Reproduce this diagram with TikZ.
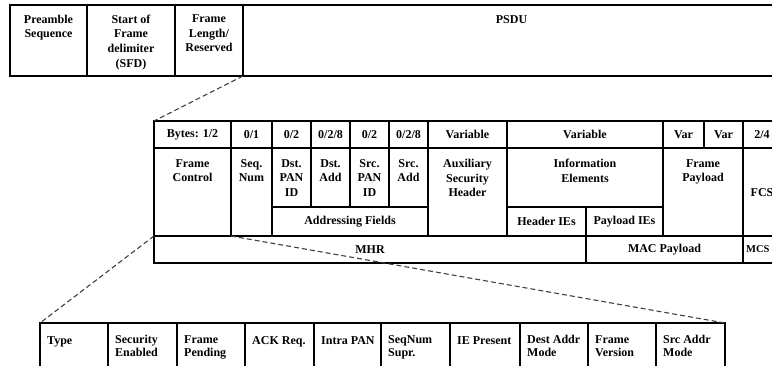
\documentclass[tikz,border=0pt]{standalone}
\usepackage{fontspec}
\setmainfont{Liberation Serif}
% one framed cell: style, name, left, top, right, bottom (y grows downwards)
\newcommand{\fcell}[6]{%
  \node[#1,anchor=north west,minimum width={(#5)-(#3)},minimum height={(#6)-(#4)}] (#2) at (#3,#4) {};}
\begin{document}
\begin{tikzpicture}[x=1pt,y=-1pt,
  cellbox/.style={draw, inner sep=0pt, outer sep=0pt},
  topcell/.style={cellbox, line width=2.2pt},
  midcell/.style={cellbox, line width=1.6pt},
  botcell/.style={cellbox, line width=2pt},
  lbl/.style={inner sep=0pt, align=center, font=\bfseries\fontsize{12}{14.7}\selectfont,
    execute at begin node=\rule{0pt}{9pt}},
  lblL/.style={inner sep=0pt, align=left, font=\bfseries\fontsize{12}{13}\selectfont,
    execute at begin node=\rule{0pt}{9pt}},
  lblS/.style={inner sep=0pt, font=\bfseries\fontsize{10.5}{11}\selectfont},
  link/.style={draw=black!75, line width=1.1pt, dash pattern=on 5pt off 3pt}]
\clip (0,0) rectangle (772,366);

% PHY frame
\fcell{topcell}{pre}{10}{5}{87}{76}
\fcell{topcell}{sfd}{87}{5}{175}{76}
\fcell{topcell}{len}{175}{5}{243}{76}
\fcell{topcell}{psdu}{243}{5}{780}{76}
\node[lbl,anchor=north] (pre-t) at ([yshift=-9.5pt]pre.north) {Preamble\\Sequence};
\node[lbl,anchor=north] (sfd-t) at ([yshift=-9.5pt]sfd.north) {Start of\\Frame\\delimiter\\(SFD)};
\node[lbl,anchor=north] (len-t) at ([yshift=-9.5pt]len.north) {Frame\\Length/\\Reserved};
\node[lbl,anchor=north] (psdu-t) at ([yshift=-9.5pt]psdu.north) {PSDU};

% MAC frame: sizes row
\fcell{midcell}{b1}{154}{121}{231}{148}
\fcell{midcell}{b2}{231}{121}{272}{148}
\fcell{midcell}{b3}{272}{121}{311}{148}
\fcell{midcell}{b4}{311}{121}{350}{148}
\fcell{midcell}{b5}{350}{121}{389}{148}
\fcell{midcell}{b6}{389}{121}{428}{148}
\fcell{midcell}{b7}{428}{121}{507}{148}
\fcell{midcell}{b8}{507}{121}{663}{148}
\fcell{midcell}{b9}{663}{121}{704}{148}
\fcell{midcell}{b10}{704}{121}{743}{148}
\fcell{midcell}{b11}{743}{121}{781}{148}
\node[lbl] (b1-t) at (b1.center) {Bytes: 1/2};
\node[lbl] (b2-t) at (b2.center) {0/1};
\node[lbl] (b3-t) at (b3.center) {0/2};
\node[lbl] (b4-t) at (b4.center) {0/2/8};
\node[lbl] (b5-t) at (b5.center) {0/2};
\node[lbl] (b6-t) at (b6.center) {0/2/8};
\node[lbl] (b7-t) at (b7.center) {Variable};
\node[lbl] (b8-t) at (b8.center) {Variable};
\node[lbl] (b9-t) at (b9.center) {Var};
\node[lbl] (b10-t) at (b10.center) {Var};
\node[lbl] (b11-t) at (b11.center) {2/4};

% MAC frame: fields
\fcell{midcell}{fc}{154}{148}{231}{236}
\fcell{midcell}{sn}{231}{148}{272}{236}
\fcell{midcell}{dpan}{272}{148}{311}{207}
\fcell{midcell}{dadd}{311}{148}{350}{207}
\fcell{midcell}{span}{350}{148}{389}{207}
\fcell{midcell}{sadd}{389}{148}{428}{207}
\fcell{midcell}{addr}{272}{207}{428}{236}
\fcell{midcell}{aux}{428}{148}{507}{236}
\fcell{midcell}{ie}{507}{148}{663}{207}
\fcell{midcell}{hie}{507}{207}{586}{236}
\fcell{midcell}{pie}{586}{207}{663}{236}
\fcell{midcell}{fp}{663}{148}{743}{236}
\fcell{midcell}{fcs}{743}{148}{781}{236}
\node[lbl,anchor=north] (fc-t) at ([yshift=-11pt]fc.north) {Frame\\Control};
\node[lbl,anchor=north] (sn-t) at ([yshift=-11pt]sn.north) {Seq.\\Num};
\node[lbl,anchor=north] (dpan-t) at ([yshift=-11pt]dpan.north) {Dst.\\PAN\\ID};
\node[lbl,anchor=north] (dadd-t) at ([yshift=-11pt]dadd.north) {Dst.\\Add};
\node[lbl,anchor=north] (span-t) at ([yshift=-11pt]span.north) {Src.\\PAN\\ID};
\node[lbl,anchor=north] (sadd-t) at ([yshift=-11pt]sadd.north) {Src.\\Add};
\node[lbl] (addr-t) at (addr.center) {Addressing Fields};
\node[lbl,anchor=north] (aux-t) at ([yshift=-11pt]aux.north) {Auxiliary\\Security\\Header};
\node[lbl,anchor=north] (ie-t) at ([yshift=-11pt]ie.north) {Information\\Elements};
\node[lbl] (hie-t) at (hie.center) {Header IEs};
\node[lbl] (pie-t) at (pie.center) {Payload IEs};
\node[lbl,anchor=north] (fp-t) at ([yshift=-11pt]fp.north) {Frame\\Payload};
\node[lbl] (fcs-t) at (fcs.center) {FCS};

% MAC frame: header / payload / footer
\fcell{midcell}{mhr}{154}{236}{586}{263}
\fcell{midcell}{macp}{586}{236}{743}{263}
\fcell{midcell}{mfr}{743}{236}{781}{263}
\node[lbl] (mhr-t) at (mhr.center) {MHR};
\node[lbl] (macp-t) at (macp.center) {MAC Payload};
\node[lblS,anchor=west] (mfr-t) at ([xshift=3pt]mfr.west) {MCS};

% Frame Control bits
\fcell{botcell}{type}{40}{323}{108}{380}
\fcell{botcell}{sec}{108}{323}{177}{380}
\fcell{botcell}{pend}{177}{323}{245}{380}
\fcell{botcell}{ack}{245}{323}{314}{380}
\fcell{botcell}{intra}{314}{323}{381}{380}
\fcell{botcell}{seqs}{381}{323}{450}{380}
\fcell{botcell}{iep}{450}{323}{520}{380}
\fcell{botcell}{dstm}{520}{323}{588}{380}
\fcell{botcell}{ver}{588}{323}{656}{380}
\fcell{botcell}{srcm}{656}{323}{725}{380}
\node[lblL,anchor=north west] (type-t) at ([xshift=7pt,yshift=-12pt]type.north west) {Type};
\node[lblL,anchor=north west] (sec-t) at ([xshift=7pt,yshift=-12pt]sec.north west) {Security\\Enabled};
\node[lblL,anchor=north west] (pend-t) at ([xshift=7pt,yshift=-12pt]pend.north west) {Frame\\Pending};
\node[lblL,anchor=north west] (ack-t) at ([xshift=7pt,yshift=-12pt]ack.north west) {ACK Req.};
\node[lblL,anchor=north west] (intra-t) at ([xshift=7pt,yshift=-12pt]intra.north west) {Intra PAN};
\node[lblL,anchor=north west] (seqs-t) at ([xshift=7pt,yshift=-12pt]seqs.north west) {SeqNum\\Supr.};
\node[lblL,anchor=north west] (iep-t) at ([xshift=7pt,yshift=-12pt]iep.north west) {IE Present};
\node[lblL,anchor=north west] (dstm-t) at ([xshift=7pt,yshift=-12pt]dstm.north west) {Dest Addr\\Mode};
\node[lblL,anchor=north west] (ver-t) at ([xshift=7pt,yshift=-12pt]ver.north west) {Frame\\Version};
\node[lblL,anchor=north west] (srcm-t) at ([xshift=7pt,yshift=-12pt]srcm.north west) {Src Addr\\Mode};

% zoom-in guides
\draw[link] (len.south east) -- (b1.north west);
\draw[link] (fc.south west) -- (type.north west);
\draw[link] (fc.south east) -- (srcm.north east);
\end{tikzpicture}
\end{document}
